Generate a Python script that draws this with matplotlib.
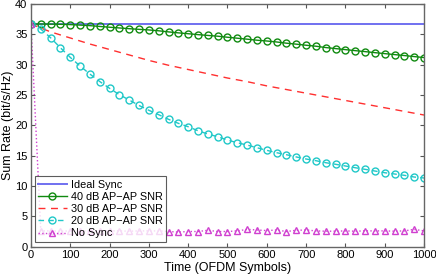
import matplotlib
matplotlib.use("Agg")
import matplotlib.pyplot as plt

plt.rcParams['font.family'] = ['Liberation Sans', 'DejaVu Sans']

# time axis for the marked series (OFDM symbols)
t_marks = list(range(0, 1001, 25))
t_red = list(range(0, 1001, 50))

ideal_sync = [36.7, 36.7]
ideal_t = [0, 1000]

snr40 = [36.7, 36.7, 36.68, 36.65, 36.6, 36.52, 36.43, 36.3, 36.17, 36.05,
         35.93, 35.82, 35.72, 35.58, 35.4, 35.24, 35.1, 34.95, 34.82, 34.69,
         34.52, 34.36, 34.2, 34.03, 33.9, 33.74, 33.54, 33.38, 33.2, 33.04,
         32.82, 32.65, 32.48, 32.31, 32.15, 31.98, 31.82, 31.66, 31.5, 31.33,
         31.17]

snr30 = [36.7, 35.4, 34.4, 33.4, 32.5, 31.6, 30.7, 29.9, 29.2, 28.5,
         27.8, 27.2, 26.5, 25.9, 25.3, 24.7, 24.1, 23.5, 22.9, 22.3, 21.7]

snr20 = [36.7, 35.87, 34.43, 32.78, 31.2, 29.77, 28.45, 27.22, 26.1, 25.05,
         24.17, 23.27, 22.48, 21.75, 20.99, 20.33, 19.77, 19.11, 18.57, 18.12,
         17.58, 17.13, 16.75, 16.31, 15.88, 15.49, 15.16, 14.79, 14.45, 14.17,
         13.84, 13.58, 13.3, 13.01, 12.75, 12.47, 12.19, 11.98, 11.76, 11.48,
         11.32]

no_sync = [36.7, 2.6, 2.6, 2.55, 2.6, 2.6, 2.55, 2.6, 2.6, 2.6,
           2.55, 2.6, 2.6, 2.6, 2.5, 2.4, 2.5, 2.5, 2.7, 2.5,
           2.5, 2.6, 2.85, 2.75, 2.65, 2.75, 2.5, 2.7, 2.75, 2.6,
           2.55, 2.55, 2.6, 2.55, 2.6, 2.6, 2.6, 2.55, 2.6, 2.85,
           2.6]

fig = plt.figure(figsize=(4.36, 2.75), dpi=100)
ax = fig.add_axes([0.071, 0.103, 0.9015, 0.8825])

ax.plot(ideal_t, ideal_sync, color='#7070f0', lw=1.4, label='Ideal Sync')
ax.plot(t_marks, snr40, color='#108a10', lw=1.0, marker='o', ms=5,
        mfc='none', mew=1.0, label='40 dB AP\u2212AP SNR')
ax.plot(t_red, snr30, color='#ff3030', lw=1.0, ls=(0, (5, 4)),
        label='30 dB AP\u2212AP SNR')
ax.plot(t_marks, snr20, color='#20c8c8', lw=1.0, ls=(0, (4, 3)), marker='o',
        ms=5, mfc='none', mew=1.0, label='20 dB AP\u2212AP SNR')
ax.plot(t_marks, no_sync, color='#d040d0', lw=1.0, ls=':', marker='^', ms=5,
        mfc='none', mew=1.0, label='No Sync')

ax.set_xlim(0, 1000)
ax.set_ylim(0, 40)
ax.set_xticks(range(0, 1001, 100))
ax.set_yticks(range(0, 41, 5))
ax.tick_params(direction='in', top=True, right=True, labelsize=8,
               length=3, color='#555555', pad=2.5)
for s in ax.spines.values():
    s.set_color('#666666')
    s.set_linewidth(1.0)

ax.set_xlabel('Time (OFDM Symbols)', fontsize=9, labelpad=1)
ax.set_ylabel('Sum Rate (bit/s/Hz)', fontsize=9, labelpad=1)

leg = ax.legend(loc='lower left', bbox_to_anchor=(0.005, 0.012), fontsize=7.8,
                frameon=True, fancybox=False, edgecolor='#333333',
                handlelength=2.6, borderpad=0.3, labelspacing=0.2,
                handletextpad=0.4, borderaxespad=0.2)
leg.get_frame().set_linewidth(0.8)

fig.savefig('out.png', dpi=100)
